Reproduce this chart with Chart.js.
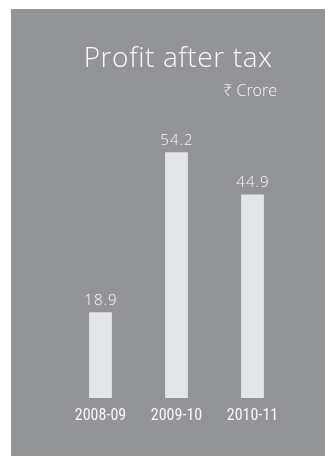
<!DOCTYPE html>
<html>
<head>
<meta charset="utf-8">
<script src="https://cdn.jsdelivr.net/npm/chart.js@4/dist/chart.umd.min.js"></script>
<style>
  html, body { margin: 0; padding: 0; background: #ffffff; }
  #wrap { width: 325px; height: 456px; position: relative; }
</style>
</head>
<body>
<div id="wrap"><canvas id="c" width="325" height="456"></canvas></div>
<script>
// Profit after tax, ₹ Crore
const categories = ['2008-09', '2009-10', '2010-11'];
const profitValues = [18.9, 54.2, 44.9];
const titleText = 'Profit after tax';
const unitText = '₹ Crore';

const PANEL = '#939498';
const BAR = '#e4e5e7';
const TEXT = '#f7f7f7';
const FONT = "'Open Sans', 'Noto Sans', sans-serif";
const TICK_FONT = "'Roboto Condensed', 'Liberation Sans Narrow', sans-serif";

// grey panel behind the whole chart
const panelPlugin = {
  id: 'panel',
  beforeDraw(chart) {
    const ctx = chart.ctx;
    ctx.save();
    ctx.fillStyle = PANEL;
    ctx.fillRect(11, 9, chart.width - 11, chart.height - 9);
    ctx.restore();
  }
};

// heading and unit, right aligned in the upper part of the panel
const headingPlugin = {
  id: 'heading',
  afterDraw(chart) {
    const ctx = chart.ctx;
    ctx.save();
    ctx.fillStyle = TEXT;
    ctx.textAlign = 'right';
    ctx.textBaseline = 'alphabetic';
    ctx.font = `300 28px ${FONT}`;
    ctx.letterSpacing = '0.6px';
    ctx.fillText(titleText, 272.6, 67);
    ctx.font = `300 16px ${FONT}`;
    ctx.letterSpacing = '0px';
    ctx.fillText(unitText, 277, 96);
    ctx.restore();
  }
};

// value written above each bar
const valueLabelPlugin = {
  id: 'valueLabels',
  afterDatasetsDraw(chart) {
    const ctx = chart.ctx;
    const meta = chart.getDatasetMeta(0);
    ctx.save();
    ctx.fillStyle = TEXT;
    ctx.textAlign = 'center';
    ctx.textBaseline = 'alphabetic';
    ctx.font = `300 15px ${FONT}`;
    ctx.letterSpacing = '1px';
    meta.data.forEach((bar, i) => {
      ctx.fillText(profitValues[i].toFixed(1), bar.x + 0.5, bar.y - 7);
    });
    ctx.restore();
  }
};

new Chart(document.getElementById('c'), {
  type: 'bar',
  data: {
    labels: categories,
    datasets: [{
      data: profitValues,
      backgroundColor: BAR,
      borderWidth: 0,
      barPercentage: 0.6,
      categoryPercentage: 0.5
    }]
  },
  options: {
    responsive: false,
    animation: false,
    layout: { padding: { left: 62.5, right: 34.5, top: 126, bottom: 18 } },
    plugins: {
      legend: { display: false },
      tooltip: { enabled: false },
      title: { display: false }
    },
    scales: {
      x: {
        grid: { display: false },
        border: { display: false },
        ticks: {
          color: TEXT,
          font: { family: TICK_FONT, size: 16, weight: 400 },
          padding: 0,
          maxRotation: 0
        },
        afterFit(scale) { scale.height = 40; }
      },
      y: {
        display: false,
        min: 0,
        max: 60
      }
    }
  },
  plugins: [panelPlugin, headingPlugin, valueLabelPlugin]
});
</script>
</body>
</html>
